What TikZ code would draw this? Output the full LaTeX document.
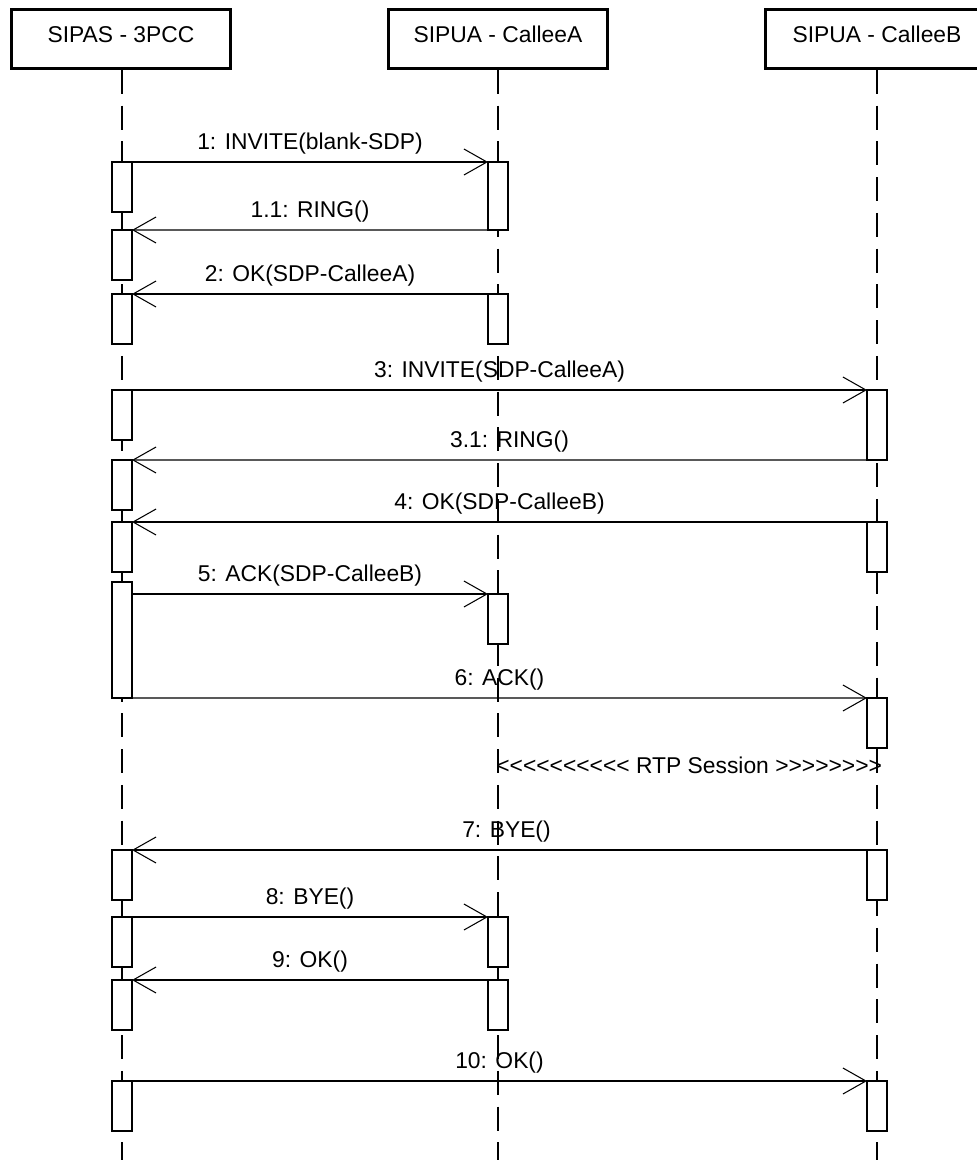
\documentclass[tikz,border=0pt]{standalone}
\usepackage{fontspec}
\setmainfont{Liberation Sans}
\usetikzlibrary{arrows.meta}
\newcommand{\rtpl}{<\kern0pt}
\newcommand{\rtpg}{>\kern0pt}

\begin{document}
\begin{tikzpicture}[x=0.02cm,y=-0.02cm,
  obj/.style={draw,line width=1.7pt,minimum width=4.4cm,minimum height=1.18cm,inner sep=0pt,
    text height=9.3pt,text depth=5.5pt,font=\fontsize{13}{15}\selectfont},
  life/.style={line width=0.6pt,dash pattern=on 0.48cm off 0.235cm},
  act/.style={draw,fill=white,line width=0.6pt,minimum width=0.4cm,minimum height=1cm,
    inner sep=0pt,outer sep=0pt,anchor=north},
  msg/.style={line width=0.6pt,-{Straight Barb[length=0.46cm,width=0.52cm,line width=0.6pt]}},
  lbl/.style={font=\fontsize{13}{15}\selectfont,above=3pt,inner sep=1pt}]
  \useasboundingbox (0,0) rectangle (977,1160);
  \clip (0,0) rectangle (977,1160);
  % objects on top (the last one runs off the right edge)
  \node[obj] (sipas) at (121,39) {SIPAS - 3PCC};
  \node[obj] (calleeA) at (498,39) {SIPUA - CalleeA};
  \node[obj,minimum width=4.8cm] (calleeB) at (885.5,39) {SIPUA - CalleeB\hspace*{0.34cm}};
  \coordinate (endS) at (122,1160);
  \coordinate (endA) at (498,1160);
  \coordinate (endB) at (877,1160);
  % lifelines
  \draw[life] (sipas.south -| endS) -- (endS);
  \draw[life] (calleeA.south) -- (endA);
  \draw[life] (calleeB.south -| endB) -- (endB);
  % activations: SIPAS - 3PCC
  \node[act] (s1) at (122,162) {};
  \node[act] (s2) at (122,230) {};
  \node[act] (s3) at (122,294) {};
  \node[act] (s4) at (122,390) {};
  \node[act] (s5) at (122,460) {};
  \node[act] (s6) at (122,522) {};
  \node[act,minimum height=2.32cm] (s7) at (122,582) {};
  \node[act] (s8) at (122,850) {};
  \node[act] (s9) at (122,917) {};
  \node[act] (s10) at (122,980) {};
  \node[act] (s11) at (122,1081) {};
  % activations: CalleeA
  \node[act,minimum height=1.36cm] (a1) at (498,162) {};
  \node[act] (a2) at (498,294) {};
  \node[act] (a3) at (498,594) {};
  \node[act] (a4) at (498,917) {};
  \node[act] (a5) at (498,980) {};
  % activations: CalleeB
  \node[act,minimum height=1.4cm] (b1) at (877,390) {};
  \node[act] (b2) at (877,522) {};
  \node[act] (b3) at (877,698) {};
  \node[act] (b4) at (877,850) {};
  \node[act] (b5) at (877,1081) {};
  % messages
  \draw[msg] (s1.north east) -- node[lbl] {1: INVITE(blank-SDP)} (a1.north west);
  \draw[msg] (a1.south west) -- node[lbl] {1.1: RING()} (s2.north east);
  \draw[msg] (a2.north west) -- node[lbl] {2: OK(SDP-CalleeA)} (s3.north east);
  \draw[msg] (s4.north east) -- node[lbl] {3: INVITE(SDP-CalleeA)} (b1.north west);
  \draw[msg] (b1.south west) -- node[lbl,xshift=0.2cm] {3.1: RING()} (s5.north east);
  \draw[msg] (b2.north west) -- node[lbl] {4: OK(SDP-CalleeB)} (s6.north east);
  \draw[msg] (s7.east |- a3.north) -- node[lbl] {5: ACK(SDP-CalleeB)} (a3.north west);
  \draw[msg] (s7.south east) -- node[lbl] {6: ACK()} (b3.north west);
  \node[font=\fontsize{13}{15}\selectfont,anchor=west,inner sep=0pt] (rtp) at (496,765)
    {\rtpl\rtpl\rtpl\rtpl\rtpl\rtpl\rtpl\rtpl\rtpl\rtpl{} RTP Session
     \rtpg\rtpg\rtpg\rtpg\rtpg\rtpg\rtpg\rtpg};
  \draw[msg] (b4.north west) -- node[lbl,xshift=0.14cm] {7: BYE()} (s8.north east);
  \draw[msg] (s9.north east) -- node[lbl] {8: BYE()} (a4.north west);
  \draw[msg] (a5.north west) -- node[lbl] {9: OK()} (s10.north east);
  \draw[msg] (s11.north east) -- node[lbl] {10: OK()} (b5.north west);
\end{tikzpicture}
\end{document}
